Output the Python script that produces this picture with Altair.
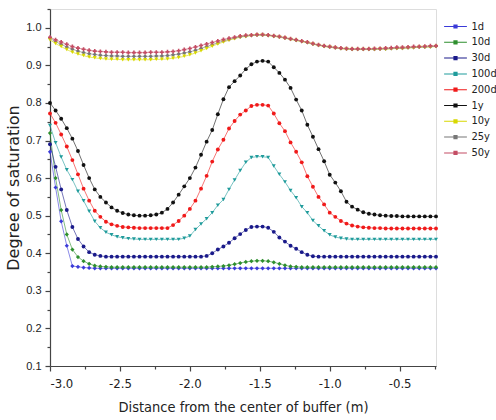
import altair as alt
import pandas as pd

x_m = [-3.00, -2.96, -2.92, -2.88, -2.84, -2.80, -2.76, -2.72, -2.68, -2.64,
       -2.60, -2.56, -2.52, -2.48, -2.44, -2.40, -2.36, -2.32, -2.28, -2.24,
       -2.20, -2.16, -2.12, -2.08, -2.04, -2.00, -1.96, -1.92, -1.88, -1.84,
       -1.80, -1.76, -1.72, -1.68, -1.64, -1.60, -1.56, -1.52, -1.48, -1.44,
       -1.40, -1.36, -1.32, -1.28, -1.24, -1.20, -1.16, -1.12, -1.08, -1.04,
       -1.00, -0.96, -0.92, -0.88, -0.84, -0.80, -0.76, -0.72, -0.68, -0.64,
       -0.60, -0.56, -0.52, -0.48, -0.44, -0.40, -0.36, -0.32, -0.28, -0.24]

s_1d = [0.670, 0.575, 0.485, 0.420, 0.366, 0.364, 0.362, 0.361, 0.360, 0.360,
        0.360, 0.360, 0.360, 0.360, 0.360, 0.360, 0.360, 0.360, 0.360, 0.360,
        0.360, 0.360, 0.360, 0.360, 0.360, 0.360, 0.360, 0.360, 0.360, 0.360,
        0.360, 0.360, 0.360, 0.360, 0.360, 0.360, 0.360, 0.360, 0.360, 0.360,
        0.360, 0.360, 0.360, 0.360, 0.360, 0.360, 0.360, 0.360, 0.360, 0.360,
        0.360, 0.360, 0.360, 0.360, 0.360, 0.360, 0.360, 0.360, 0.360, 0.360,
        0.360, 0.360, 0.360, 0.360, 0.360, 0.360, 0.360, 0.360, 0.360, 0.360]

s_10d = [0.720, 0.600, 0.515, 0.450, 0.410, 0.390, 0.379, 0.372, 0.367, 0.365,
         0.364, 0.363, 0.363, 0.363, 0.363, 0.363, 0.363, 0.363, 0.363, 0.363,
         0.363, 0.363, 0.363, 0.363, 0.363, 0.363, 0.363, 0.363, 0.363, 0.364,
         0.365, 0.366, 0.368, 0.371, 0.374, 0.377, 0.379, 0.380, 0.380, 0.379,
         0.376, 0.372, 0.368, 0.365, 0.364, 0.363, 0.363, 0.363, 0.363, 0.363,
         0.363, 0.363, 0.363, 0.363, 0.363, 0.363, 0.363, 0.363, 0.363, 0.363,
         0.363, 0.363, 0.363, 0.363, 0.363, 0.363, 0.363, 0.363, 0.363, 0.363]

s_30d = [0.690, 0.630, 0.570, 0.515, 0.470, 0.438, 0.418, 0.403, 0.396, 0.393,
         0.391, 0.391, 0.391, 0.391, 0.391, 0.391, 0.391, 0.391, 0.391, 0.391,
         0.391, 0.391, 0.391, 0.391, 0.391, 0.391, 0.391, 0.391, 0.393, 0.400,
         0.410, 0.418, 0.428, 0.440, 0.451, 0.462, 0.470, 0.471, 0.471, 0.468,
         0.457, 0.442, 0.431, 0.420, 0.412, 0.403, 0.396, 0.392, 0.391, 0.391,
         0.391, 0.391, 0.391, 0.391, 0.391, 0.391, 0.391, 0.391, 0.391, 0.391,
         0.391, 0.391, 0.391, 0.391, 0.391, 0.391, 0.391, 0.391, 0.391, 0.391]

s_100d = [0.740, 0.694, 0.656, 0.622, 0.596, 0.565, 0.540, 0.512, 0.485, 0.468,
          0.456, 0.449, 0.444, 0.441, 0.439, 0.438, 0.437, 0.437, 0.437, 0.437,
          0.437, 0.437, 0.437, 0.437, 0.440, 0.446, 0.463, 0.478, 0.492, 0.508,
          0.528, 0.543, 0.570, 0.595, 0.620, 0.642, 0.655, 0.657, 0.657, 0.655,
          0.632, 0.610, 0.590, 0.567, 0.548, 0.524, 0.508, 0.487, 0.473, 0.460,
          0.449, 0.443, 0.440, 0.438, 0.437, 0.437, 0.437, 0.437, 0.437, 0.437,
          0.437, 0.437, 0.437, 0.437, 0.437, 0.437, 0.437, 0.437, 0.437, 0.437]

s_200d = [0.772, 0.747, 0.716, 0.684, 0.648, 0.610, 0.572, 0.540, 0.513, 0.497,
          0.484, 0.477, 0.473, 0.470, 0.469, 0.468, 0.467, 0.467, 0.467, 0.467,
          0.467, 0.467, 0.475, 0.486, 0.500, 0.518, 0.540, 0.572, 0.606, 0.644,
          0.676, 0.702, 0.732, 0.752, 0.769, 0.780, 0.792, 0.795, 0.795, 0.793,
          0.772, 0.746, 0.725, 0.695, 0.670, 0.642, 0.605, 0.577, 0.550, 0.530,
          0.508, 0.497, 0.486, 0.479, 0.474, 0.471, 0.469, 0.468, 0.467, 0.467,
          0.466, 0.466, 0.466, 0.466, 0.466, 0.466, 0.466, 0.466, 0.466, 0.466]

s_1y = [0.800, 0.780, 0.758, 0.733, 0.705, 0.672, 0.635, 0.600, 0.570, 0.550,
        0.535, 0.522, 0.513, 0.507, 0.503, 0.501, 0.500, 0.500, 0.501, 0.503,
        0.508, 0.518, 0.535, 0.556, 0.578, 0.600, 0.628, 0.662, 0.697, 0.728,
        0.770, 0.810, 0.842, 0.858, 0.873, 0.890, 0.903, 0.910, 0.912, 0.910,
        0.895, 0.880, 0.862, 0.840, 0.809, 0.780, 0.742, 0.710, 0.677, 0.645,
        0.609, 0.588, 0.565, 0.537, 0.524, 0.516, 0.509, 0.505, 0.503, 0.501,
        0.500, 0.499, 0.499, 0.498, 0.498, 0.498, 0.498, 0.498, 0.498, 0.498]

s_10y = [0.968, 0.958, 0.950, 0.942, 0.935, 0.930, 0.926, 0.922, 0.920, 0.918,
         0.917, 0.916, 0.916, 0.915, 0.915, 0.915, 0.915, 0.915, 0.915, 0.916,
         0.916, 0.917, 0.919, 0.921, 0.924, 0.928, 0.933, 0.939, 0.945, 0.951,
         0.957, 0.962, 0.967, 0.971, 0.975, 0.977, 0.979, 0.980, 0.980, 0.979,
         0.977, 0.975, 0.972, 0.969, 0.966, 0.963, 0.960, 0.956, 0.953, 0.950,
         0.948, 0.946, 0.944, 0.943, 0.942, 0.942, 0.942, 0.942, 0.942, 0.943,
         0.943, 0.944, 0.945, 0.945, 0.946, 0.947, 0.948, 0.948, 0.949, 0.950]

s_25y = [0.972, 0.963, 0.956, 0.949, 0.943, 0.938, 0.934, 0.931, 0.929, 0.927,
         0.926, 0.925, 0.925, 0.924, 0.924, 0.924, 0.924, 0.924, 0.924, 0.925,
         0.925, 0.926, 0.928, 0.930, 0.933, 0.936, 0.940, 0.945, 0.950, 0.955,
         0.960, 0.965, 0.969, 0.973, 0.976, 0.978, 0.980, 0.981, 0.981, 0.980,
         0.978, 0.976, 0.973, 0.970, 0.967, 0.964, 0.961, 0.957, 0.954, 0.951,
         0.949, 0.947, 0.945, 0.944, 0.943, 0.943, 0.943, 0.943, 0.943, 0.944,
         0.944, 0.945, 0.946, 0.946, 0.947, 0.948, 0.949, 0.949, 0.950, 0.951]

s_50y = [0.975, 0.968, 0.962, 0.956, 0.950, 0.946, 0.943, 0.940, 0.938, 0.937,
         0.936, 0.935, 0.935, 0.935, 0.934, 0.934, 0.934, 0.934, 0.935, 0.935,
         0.935, 0.936, 0.937, 0.939, 0.942, 0.945, 0.949, 0.953, 0.957, 0.961,
         0.965, 0.969, 0.972, 0.975, 0.978, 0.980, 0.981, 0.982, 0.982, 0.981,
         0.979, 0.977, 0.974, 0.971, 0.968, 0.965, 0.962, 0.958, 0.955, 0.952,
         0.950, 0.948, 0.946, 0.945, 0.944, 0.944, 0.944, 0.944, 0.945, 0.945,
         0.946, 0.947, 0.948, 0.948, 0.949, 0.950, 0.950, 0.951, 0.952, 0.952]

series_names = ["1d", "10d", "30d", "100d", "200d", "1y", "10y", "25y", "50y"]
series_values = [s_1d, s_10d, s_30d, s_100d, s_200d, s_1y, s_10y, s_25y, s_50y]
series_colors = ["#3a3ad8", "#2e8f2e", "#1a1a8a", "#1f9b9b", "#f01a1a",
                 "#111111", "#d8d800", "#777777", "#c44d64"]
diamond_series = ["1d", "10d", "25y"]
triangle_series = ["100d", "10y"]
circle_series = ["30d", "200d", "1y"]
cross_series = ["50y"]

rows = []
for k, (name, vals) in enumerate(zip(series_names, series_values)):
    for xv, yv in zip(x_m, vals):
        rows.append({"x": xv, "y": yv, "series": name, "k": k})
df = pd.DataFrame(rows)

NARROW = "'Liberation Sans Narrow', 'DejaVu Sans Condensed', 'Roboto Condensed', 'Liberation Sans', sans-serif"
SANS = "'Liberation Sans', Arial, sans-serif"
WIDE = "'DejaVu Sans', 'Liberation Sans', sans-serif"
AXC = "#444444"

xscale = alt.Scale(domain=[-3.0, -0.24], nice=False, zero=False)
yscale = alt.Scale(domain=[0.1, 1.05], nice=False, zero=False)
cscale = alt.Scale(domain=series_names, range=series_colors)

x_ticks = [-3.0, -2.75, -2.5, -2.25, -2.0, -1.75, -1.5, -1.25, -1.0, -0.75, -0.5, -0.25]
y_ticks = [0.1, 0.15, 0.2, 0.25, 0.3, 0.35, 0.4, 0.45, 0.5, 0.55, 0.6, 0.65,
           0.7, 0.75, 0.8, 0.85, 0.9, 0.95, 1.0, 1.05]

xaxis = alt.Axis(
    values=x_ticks, title="Distance from the center of buffer (m)",
    labelExpr="datum.value*2 == round(datum.value*2) ? replace(format(datum.value, '.1f'), '\u2212', '-') : ''",
    labelOverlap=False, labelFont=NARROW, labelFontSize=13, labelColor="#222222",
    labelPadding=6, grid=False, domainColor=AXC, tickColor=AXC, tickWidth=1.2, domainWidth=1.2,
    tickSize=alt.condition("datum.value*2 == round(datum.value*2)", alt.value(5), alt.value(3)),
    titleFont=NARROW, titleFontSize=14.5, titleFontWeight="normal", titleColor="#222222",
    titlePadding=10,
)
yaxis = alt.Axis(
    values=y_ticks, title="Degree of saturation",
    labelExpr="abs(datum.value*10 - round(datum.value*10)) < 0.001 ? format(datum.value, '.1f') : ''",
    labelOverlap=False, labelFont=SANS, labelFontSize=11, labelColor="#222222",
    labelPadding=4, grid=False, domainColor=AXC, tickColor=AXC, tickWidth=1.2, domainWidth=1.2,
    tickSize=alt.condition("abs(datum.value*10 - round(datum.value*10)) < 0.001", alt.value(5), alt.value(3)),
    titleFont=WIDE, titleFontSize=16, titleFontWeight="normal", titleColor="#222222",
    titlePadding=4,
)
legend = alt.Legend(
    title=None, orient="none", legendX=400, legendY=12,
    symbolType="M-3.8,-0.17H3.8V0.17H-3.8Z M-0.7,-0.7H0.7V0.7H-0.7Z",
    symbolSize=36, symbolStrokeWidth=0, labelOffset=10.5, labelFont=NARROW, labelFontSize=11,
    labelColor="#222222", rowPadding=3.8, symbolOpacity=1,
)

X = alt.X("x:Q", scale=xscale, axis=xaxis)
Y = alt.Y("y:Q", scale=yscale, axis=yaxis)

base = alt.Chart(df)
lines = base.mark_line(strokeWidth=0.8, opacity=0.75).encode(
    x=X, y=Y,
    color=alt.Color("series:N", scale=cscale, sort=series_names, legend=None),
    detail="series:N",
)


def pts(members, shape=None, size=15, show_legend=False):
    kw = dict(filled=True, size=size, opacity=1)
    if shape is not None:
        kw["shape"] = shape
    return base.transform_filter(
        alt.FieldOneOfPredicate(field="series", oneOf=members)
    ).mark_point(**kw).encode(
        x=X, y=Y,
        color=alt.Color("series:N", scale=cscale, sort=series_names,
                        legend=legend if show_legend else None),
        order=alt.Order("k:Q"),
    )


p_diamond = pts(diamond_series, shape="diamond", size=18)
p_tri = pts(triangle_series, shape="triangle-down", size=16)
p_circle = pts(circle_series, size=15, show_legend=True)
p_cross = pts(cross_series, shape="cross", size=16)

chart = alt.layer(lines, p_diamond, p_tri, p_circle, p_cross).resolve_legend(
    color="independent"
).properties(
    width=386, height=357,
    autosize=alt.AutoSizeParams(type="none"),
    padding={"left": 50, "top": 9, "right": 60, "bottom": 54},
).configure_view(stroke=None).configure_axis(labelOverlap=False).configure(background="white")

chart.save("out.html", embed_options={"renderer": "svg", "actions": False})
